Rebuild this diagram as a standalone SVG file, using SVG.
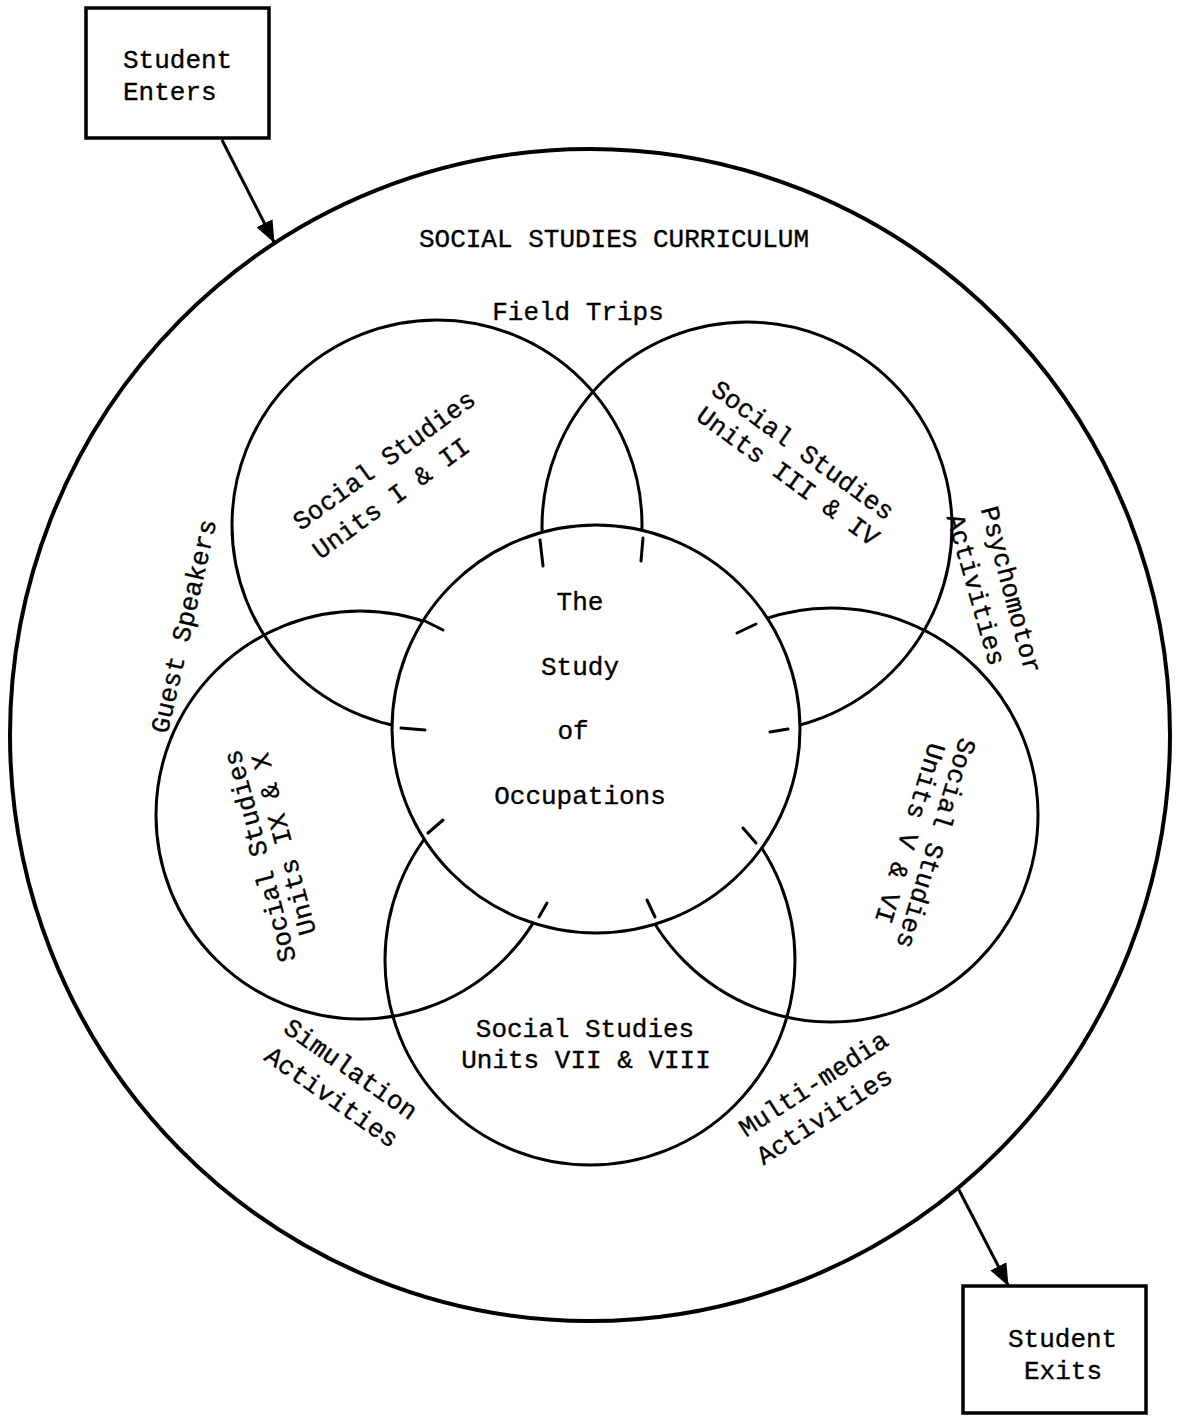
<svg xmlns="http://www.w3.org/2000/svg" width="1177" height="1416" viewBox="0 0 1177 1416">
  <style>
    .ln { fill: none; stroke: #000; stroke-width: 3; }
    .core { fill: #fff; stroke: #000; stroke-width: 3; }
    .outer { fill: none; stroke: #000; stroke-width: 4; }
    .box { fill: #fff; stroke: #000; stroke-width: 3.5; }
    .tick { stroke: #000; stroke-width: 3; stroke-linecap: round; }
    .t { font-family: "Liberation Mono", "Courier New", monospace; font-size: 26px; fill: #000; stroke: #000; stroke-width: 0.35; }
    .m { text-anchor: middle; }
    .conn { stroke: #000; stroke-width: 3; fill: none; }
  </style>
  <defs>
    <marker id="arrow" viewBox="0 0 22 18" refX="21" refY="9" markerWidth="22" markerHeight="18" orient="auto" markerUnits="userSpaceOnUse">
      <path d="M0,0 L22,9 L0,18 Z" fill="#000"/>
    </marker>
  </defs>
  <rect width="1177" height="1416" fill="#fff"/>

  <g id="curriculum">
    <ellipse class="outer" cx="590" cy="735" rx="580" ry="586"/>
    <text class="t m" x="614" y="247">SOCIAL STUDIES CURRICULUM</text>
  </g>

  <g id="units-1-2">
    <circle class="ln" cx="437" cy="525" r="205"/>
    <text class="t m" transform="translate(389,467) rotate(-36)">Social Studies</text>
    <text class="t m" transform="translate(396,505) rotate(-36)">Units I &amp; II</text>
  </g>
  <g id="units-3-4">
    <circle class="ln" cx="747" cy="527" r="205"/>
    <text class="t m" transform="translate(798,457) rotate(36)">Social Studies</text>
    <text class="t m" transform="translate(783,483) rotate(36)">Units III &amp; IV</text>
  </g>
  <g id="units-5-6">
    <circle class="ln" cx="831" cy="815" r="207"/>
    <text class="t m" transform="translate(928,841) rotate(107)">Social Studies</text>
    <text class="t m" transform="translate(902,831) rotate(107)">Units V &amp; VI</text>
  </g>
  <g id="units-7-8">
    <circle class="ln" cx="590" cy="960" r="205"/>
    <text class="t m" x="585" y="1037">Social Studies</text>
    <text class="t m" x="586" y="1068">Units VII &amp; VIII</text>
  </g>
  <g id="units-9-10">
    <circle class="ln" cx="360" cy="815" r="204"/>
    <text class="t m" transform="translate(268,854) rotate(-105)">Social Studies</text>
    <text class="t m" transform="translate(292,842) rotate(-105)">Units IX &amp; X</text>
  </g>

  <g id="occupations">
    <circle class="core" cx="596" cy="729" r="204"/>
    <line class="tick" x1="540" y1="540" x2="543" y2="566"/>
    <line class="tick" x1="643" y1="538" x2="641" y2="561"/>
    <line class="tick" x1="425" y1="621" x2="443" y2="630"/>
    <line class="tick" x1="401" y1="728" x2="425" y2="730"/>
    <line class="tick" x1="428" y1="833" x2="443" y2="820"/>
    <line class="tick" x1="539" y1="917" x2="547" y2="903"/>
    <line class="tick" x1="647" y1="900" x2="655" y2="917"/>
    <line class="tick" x1="743" y1="828" x2="756" y2="843"/>
    <line class="tick" x1="770" y1="732" x2="788" y2="729"/>
    <line class="tick" x1="737" y1="633" x2="756" y2="624"/>
    <text class="t m" x="580" y="610">The</text>
    <text class="t m" x="580" y="675">Study</text>
    <text class="t m" x="573" y="739">of</text>
    <text class="t m" x="580" y="804">Occupations</text>
  </g>

  <g id="activities">
    <text class="t m" x="578" y="320">Field Trips</text>
    <text class="t m" transform="translate(192,628) rotate(-77)">Guest Speakers</text>
    <text class="t m" transform="translate(1003,592) rotate(75)">Psychomotor</text>
    <text class="t m" transform="translate(968,592) rotate(74)">Activities</text>
    <text class="t m" transform="translate(346,1076) rotate(35)">Simulation</text>
    <text class="t m" transform="translate(327,1104) rotate(35)">Activities</text>
    <text class="t m" transform="translate(818,1091) rotate(-33)">Multi-media</text>
    <text class="t m" transform="translate(829,1123) rotate(-33)">Activities</text>
  </g>

  <g id="student-enters">
    <rect class="box" x="86" y="8" width="183" height="130"/>
    <text class="t" x="123" y="68">Student</text>
    <text class="t" x="123" y="100">Enters</text>
  </g>
  <g id="student-exits">
    <rect class="box" x="963" y="1286" width="183" height="127"/>
    <text class="t" x="1008" y="1347">Student</text>
    <text class="t" x="1024" y="1379">Exits</text>
  </g>

  <g id="connectors">
    <line class="conn" x1="222" y1="140" x2="274" y2="242" marker-end="url(#arrow)"/>
    <line class="conn" x1="958" y1="1188" x2="1008" y2="1285" marker-end="url(#arrow)"/>
  </g>
</svg>
